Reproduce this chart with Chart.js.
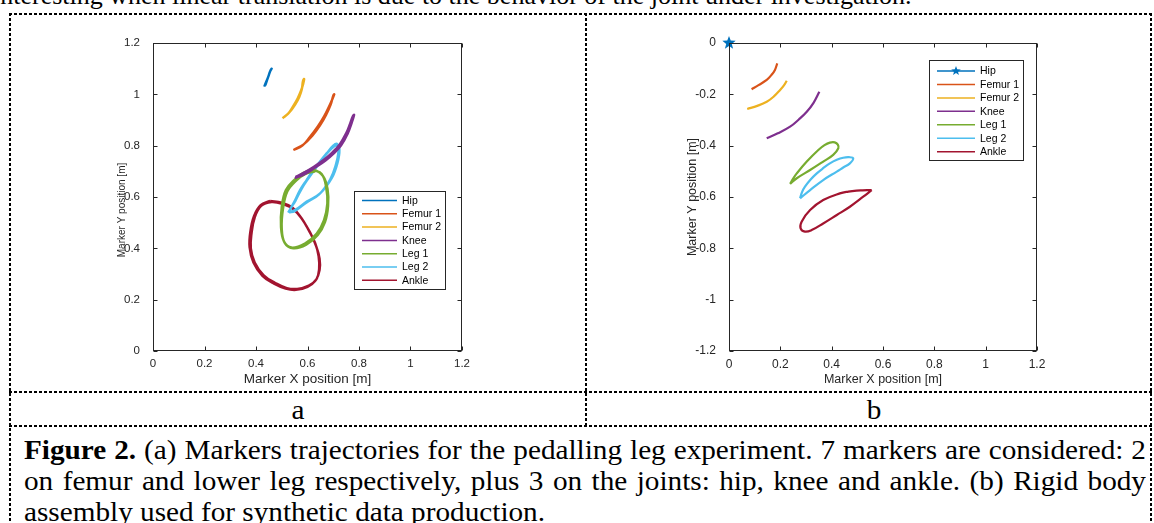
<!DOCTYPE html>
<html>
<head>
<meta charset="utf-8">
<script src="https://cdn.jsdelivr.net/npm/chart.js@4.4.0/dist/chart.umd.min.js"></script>
<style>
html, body { margin: 0; padding: 0; background: #fff; }
body { width: 1154px; height: 523px; position: relative; overflow: hidden; font-family: "Liberation Serif", "Times New Roman", serif; color: #000; }
.hl { position: absolute; height: 2px; background: repeating-linear-gradient(to right, #000 0 3px, transparent 3px 5px); }
.vl { position: absolute; width: 2px; background: repeating-linear-gradient(to bottom, #000 0 3px, transparent 3px 5px); }
.serif { position: absolute; font-size: 28px; line-height: 28px; transform-origin: 0 0; }
.capline { left: 24px; width: 1075px; transform: scaleX(1.0437); text-align: justify; text-align-last: justify; }
.cell { top: 396px; width: 576px; text-align: center; transform-origin: 50% 0; transform: scaleX(1.0437); }
canvas { position: absolute; }
</style>
</head>
<body>

<div class="serif" style="left:-7px; top:-17px; font-size:26px; line-height:26px; white-space:nowrap">interesting when linear translation is due to the behavior of the joint under investigation.</div>

<!-- dashed table frame -->
<div class="hl" style="left:9px; top:13px; width:1145px"></div>
<div class="hl" style="left:9px; top:391px; width:1145px"></div>
<div class="hl" style="left:9px; top:425px; width:1145px"></div>
<div class="vl" style="left:9px; top:13px; height:510px"></div>
<div class="vl" style="left:585px; top:13px; height:414px"></div>
<div class="vl" style="left:1150px; top:13px; height:510px"></div>

<canvas id="leftChart" width="380" height="360" style="left:100px; top:30px"></canvas>
<canvas id="rightChart" width="380" height="360" style="left:680px; top:30px"></canvas>

<div class="serif cell" style="left:10px">a</div>
<div class="serif cell" style="left:586px">b</div>

<div class="serif capline" style="top:436px"><b>Figure 2.</b> (a) Markers trajectories for the pedalling leg experiment. 7 markers are considered: 2</div>
<div class="serif capline" style="top:467px">on femur and lower leg respectively, plus 3 on the joints: hip, knee and ankle. (b) Rigid body</div>
<div class="serif capline" style="top:498px; text-align-last:left">assembly used for synthetic data production.</div>

<script>
// series names / colours (MATLAB default order)
const seriesNames = ['Hip', 'Femur 1', 'Femur 2', 'Knee', 'Leg 1', 'Leg 2', 'Ankle'];
const seriesColors = ['#0072BD', '#D95319', '#EDB120', '#7E2F8E', '#77AC30', '#4DBEEE', '#A2142F'];

// tick values and labels
const xTickValues = [0, 0.2, 0.4, 0.6, 0.8, 1, 1.2];
const xTickLabels = ['0', '0.2', '0.4', '0.6', '0.8', '1', '1.2'];
const leftYTickValues = [0, 0.2, 0.4, 0.6, 0.8, 1, 1.2];
const leftYTickLabels = ['0', '0.2', '0.4', '0.6', '0.8', '1', '1.2'];
const rightYTickValues = [-1.2, -1, -0.8, -0.6, -0.4, -0.2, 0];
const rightYTickLabels = ['-1.2', '-1', '-0.8', '-0.6', '-0.4', '-0.2', '0'];

// (a) measured trajectories, [x, y] in metres (several cycles overlap)
const aHip = [[0.432, 1.03], [0.44, 1.05], [0.448, 1.07], [0.455, 1.09], [0.461, 1.10],
  [0.457, 1.095], [0.45, 1.075], [0.443, 1.055], [0.436, 1.035]];
const aFemur1 = [[0.545, 0.783], [0.58, 0.80], [0.61, 0.835], [0.64, 0.875], [0.665, 0.915], [0.685, 0.955], [0.698, 0.985], [0.704, 1.0],
  [0.70, 0.995], [0.69, 0.96], [0.672, 0.92], [0.648, 0.878], [0.618, 0.838], [0.585, 0.805], [0.55, 0.786]];
const aFemur2 = [[0.503, 0.907], [0.525, 0.925], [0.545, 0.955], [0.562, 0.985], [0.575, 1.015], [0.583, 1.04], [0.587, 1.06],
  [0.582, 1.05], [0.578, 1.02], [0.568, 0.99], [0.552, 0.96], [0.53, 0.93], [0.508, 0.91]];
const aKnee = [[0.551, 0.673], [0.59, 0.69], [0.63, 0.715], [0.67, 0.742], [0.70, 0.768], [0.73, 0.80], [0.755, 0.845], [0.772, 0.89], [0.781, 0.92],
  [0.776, 0.915], [0.765, 0.885], [0.75, 0.848], [0.725, 0.805], [0.695, 0.772], [0.665, 0.746], [0.625, 0.718], [0.585, 0.694], [0.553, 0.678]];
const aLeg1 = [[0.623, 0.705], [0.655, 0.69], [0.672, 0.64], [0.677, 0.575], [0.664, 0.51], [0.636, 0.458], [0.59, 0.419], [0.538, 0.403],
  [0.509, 0.426], [0.497, 0.484], [0.50, 0.562], [0.516, 0.627], [0.551, 0.669], [0.586, 0.695], [0.623, 0.705],
  [0.66, 0.682], [0.678, 0.63], [0.68, 0.565], [0.668, 0.502], [0.64, 0.452], [0.595, 0.414], [0.545, 0.40],
  [0.512, 0.42], [0.50, 0.478], [0.505, 0.555], [0.522, 0.622], [0.556, 0.664], [0.592, 0.69], [0.63, 0.70]];
const aLeg2 = [[0.525, 0.539], [0.548, 0.58], [0.571, 0.627], [0.597, 0.667], [0.623, 0.705], [0.65, 0.74], [0.675, 0.771], [0.70, 0.80],
  [0.714, 0.807], [0.724, 0.784], [0.716, 0.731], [0.694, 0.673], [0.649, 0.614], [0.597, 0.582], [0.551, 0.549], [0.53, 0.545],
  [0.553, 0.585], [0.576, 0.63], [0.603, 0.672], [0.63, 0.71], [0.655, 0.745], [0.68, 0.775], [0.703, 0.797], [0.716, 0.80],
  [0.72, 0.775], [0.71, 0.725], [0.688, 0.668], [0.645, 0.61], [0.595, 0.578], [0.55, 0.545], [0.528, 0.54]];
const aAnkle = [[0.455, 0.585], [0.50, 0.578], [0.54, 0.56], [0.575, 0.52], [0.605, 0.47], [0.63, 0.42], [0.643, 0.37], [0.645, 0.32],
  [0.635, 0.28], [0.605, 0.255], [0.56, 0.242], [0.52, 0.245], [0.475, 0.265], [0.43, 0.295], [0.395, 0.345], [0.38, 0.40],
  [0.383, 0.46], [0.395, 0.52], [0.42, 0.565], [0.46, 0.58], [0.505, 0.572], [0.545, 0.552], [0.58, 0.512], [0.61, 0.462],
  [0.633, 0.41], [0.647, 0.36], [0.647, 0.315], [0.632, 0.275], [0.60, 0.25], [0.555, 0.238], [0.515, 0.243], [0.47, 0.262],
  [0.425, 0.293], [0.39, 0.345], [0.375, 0.405], [0.378, 0.465], [0.392, 0.525], [0.418, 0.568], [0.455, 0.585]];

// (b) rigid body assembly, synthetic data
const bHip = [[0, 0]];
const bFemur1 = [[0.088, -0.18], [0.115, -0.164], [0.147, -0.144], [0.165, -0.125], [0.179, -0.105], [0.188, -0.079]];
const bFemur2 = [[0.071, -0.257], [0.11, -0.245], [0.147, -0.229], [0.175, -0.208], [0.199, -0.183], [0.214, -0.165], [0.225, -0.147]];
const bKnee = [[0.147, -0.371], [0.19, -0.352], [0.238, -0.326], [0.272, -0.298], [0.303, -0.268], [0.33, -0.232], [0.352, -0.19]];
const bLeg1 = [[0.238, -0.549], [0.25, -0.528], [0.264, -0.508], [0.303, -0.462], [0.348, -0.417], [0.372, -0.398], [0.393, -0.388],
  [0.412, -0.387], [0.424, -0.396], [0.426, -0.41], [0.406, -0.436], [0.367, -0.462], [0.316, -0.495], [0.264, -0.527], [0.238, -0.549]];
const bLeg2 = [[0.277, -0.605], [0.285, -0.58], [0.296, -0.56], [0.318, -0.532], [0.342, -0.508], [0.368, -0.487], [0.393, -0.469],
  [0.42, -0.455], [0.445, -0.447], [0.468, -0.445], [0.484, -0.449], [0.471, -0.469], [0.445, -0.485], [0.42, -0.501],
  [0.367, -0.534], [0.316, -0.573], [0.277, -0.605]];
const bAnkle = [[0.556, -0.573], [0.52, -0.574], [0.497, -0.575], [0.465, -0.579], [0.432, -0.586], [0.367, -0.612], [0.316, -0.651],
  [0.283, -0.696], [0.279, -0.722], [0.296, -0.735], [0.322, -0.729], [0.367, -0.703], [0.42, -0.67], [0.471, -0.638],
  [0.523, -0.599], [0.556, -0.573]];

const sans = '"Liberation Sans", Arial, Helvetica, sans-serif';
const axisColor = '#262626';

// filled pentagram like MATLAB's 'p' marker
function starMarker(r, color) {
    const c = document.createElement('canvas');
    c.width = c.height = 2 * r + 2;
    const g = c.getContext('2d');
    g.beginPath();
    for (let i = 0; i < 10; i++) {
        const a = -Math.PI / 2 + i * Math.PI / 5;
        const rr = i % 2 ? r * 0.42 : r;
        g.lineTo(r + 1 + rr * Math.cos(a), r + 1 + rr * Math.sin(a));
    }
    g.closePath();
    g.fillStyle = color;
    g.fill();
    return c;
}
const hipStar = starMarker(7, seriesColors[0]);
const hipStarSmall = starMarker(5, seriesColors[0]);

function toXY(arr) {
    return arr.map(p => ({ x: p[0], y: p[1] }));
}

function makeDatasets(list, width) {
    return list.map((arr, i) => ({
        label: seriesNames[i],
        data: toXY(arr),
        borderColor: seriesColors[i],
        backgroundColor: seriesColors[i],
        borderWidth: width,
        showLine: true,
        pointRadius: 0,
        tension: 0.4
    }));
}

// label lookup by tick value (avoids float noise in generated ticks)
function labelFor(values, labels) {
    return v => {
        let best = 0;
        values.forEach((t, i) => { if (Math.abs(t - v) < Math.abs(values[best] - v)) best = i; });
        return labels[best];
    };
}

// box, inward ticks on all four sides, y label and boxed legend, MATLAB style
const matlabAxes = {
    id: 'matlabAxes',
    afterDraw(chart, args, o) {
        const { ctx, chartArea: a, scales: { x, y } } = chart;
        ctx.save();
        ctx.strokeStyle = axisColor;
        ctx.lineWidth = 1;
        const L = Math.round(a.left) + 0.5, R = Math.round(a.right) - 0.5;
        const T = Math.round(a.top) + 0.5, B = Math.round(a.bottom) - 0.5;
        ctx.strokeRect(L, T, R - L, B - T);
        ctx.beginPath();
        x.ticks.forEach(t => {
            const px = Math.round(x.getPixelForValue(t.value)) + 0.5;
            ctx.moveTo(px, B); ctx.lineTo(px, B - 4);
            ctx.moveTo(px, T); ctx.lineTo(px, T + 4);
        });
        y.ticks.forEach(t => {
            const py = Math.round(y.getPixelForValue(t.value)) + 0.5;
            ctx.moveTo(L, py); ctx.lineTo(L + 4, py);
            ctx.moveTo(R, py); ctx.lineTo(R - 4, py);
        });
        ctx.stroke();

        // rotated y-axis label
        const yt = o.yTitle;
        ctx.save();
        ctx.translate(yt.x, yt.y);
        ctx.rotate(-Math.PI / 2);
        ctx.fillStyle = axisColor;
        ctx.font = yt.size + 'px ' + sans;
        ctx.textAlign = 'center';
        ctx.textBaseline = 'middle';
        ctx.fillText(yt.text, 0, 0);
        ctx.restore();

        // legend
        const b = o.box;
        ctx.fillStyle = '#fff';
        ctx.fillRect(b.x, b.y, b.w, b.h);
        ctx.strokeStyle = axisColor;
        ctx.strokeRect(b.x + 0.5, b.y + 0.5, b.w - 1, b.h - 1);
        ctx.font = '10.5px ' + sans;
        ctx.textBaseline = 'middle';
        ctx.textAlign = 'left';
        chart.data.datasets.forEach((ds, i) => {
            const cy = b.rowY + i * b.rowStep;
            ctx.strokeStyle = ds.borderColor;
            ctx.lineWidth = 1.5;
            ctx.beginPath();
            ctx.moveTo(b.lineX0, cy);
            ctx.lineTo(b.lineX1, cy);
            ctx.stroke();
            if (ds.legendMarker) {
                const m = ds.legendMarker;
                ctx.drawImage(m, (b.lineX0 + b.lineX1) / 2 - m.width / 2, cy - m.height / 2);
            }
            ctx.fillStyle = '#000';
            ctx.fillText(ds.label, b.textX, cy + 0.5);
        });
        ctx.restore();
    }
};

function axisFont(size) {
    return { family: sans, size: size };
}

function plotOptions(cfg) {
    return {
        responsive: false,
        animation: false,
        devicePixelRatio: 1,
        layout: { padding: cfg.padding, autoPadding: false },
        plugins: {
            legend: { display: false },
            tooltip: { enabled: false },
            matlabAxes: { box: cfg.legend, yTitle: cfg.yTitle }
        },
        scales: {
            x: {
                type: 'linear', min: 0, max: 1.2,
                grid: { display: false }, border: { display: false },
                ticks: {
                    stepSize: 0.2, padding: cfg.xTickPad, color: axisColor, font: axisFont(cfg.tickSize),
                    maxRotation: 0, autoSkip: false,
                    callback: labelFor(xTickValues, xTickLabels)
                },
                title: {
                    display: true, text: 'Marker X position [m]', color: axisColor,
                    font: axisFont(cfg.xTitleSize), padding: { top: 0, bottom: cfg.xTitlePad }
                },
                afterFit: s => { s.height = cfg.xHeight; }
            },
            y: {
                type: 'linear', min: cfg.yMin, max: cfg.yMax,
                grid: { display: false }, border: { display: false },
                ticks: {
                    stepSize: 0.2, padding: 5, color: axisColor, font: axisFont(cfg.tickSize),
                    autoSkip: false,
                    callback: labelFor(cfg.yValues, cfg.yLabels)
                },
                afterFit: s => { s.width = cfg.yWidth; }
            }
        }
    };
}

document.addEventListener('DOMContentLoaded', function() {
    // (a) experiment
    new Chart(document.getElementById('leftChart'), {
        type: 'scatter',
        data: { datasets: makeDatasets([aHip, aFemur1, aFemur2, aKnee, aLeg1, aLeg2, aAnkle], 2.4) },
        options: plotOptions({
            padding: { left: 0, top: 13, right: 18, bottom: 0 },
            yMin: 0, yMax: 1.2, yValues: leftYTickValues, yLabels: leftYTickLabels,
            yWidth: 53, xHeight: 39,
            tickSize: 11.5, xTickPad: -2,
            xTitleSize: 13.5, xTitlePad: 3,
            yTitle: { text: 'Marker Y position [m]', size: 10, x: 22, y: 180 },
            legend: { x: 254, y: 161, w: 92, h: 99, rowY: 170.5, rowStep: 13.3, lineX0: 262, lineX1: 297, textX: 302 }
        }),
        plugins: [matlabAxes]
    });

    // (b) rigid body assembly
    const right = makeDatasets([bHip, bFemur1, bFemur2, bKnee, bLeg1, bLeg2, bAnkle], 2.2);
    right[0].showLine = false;
    right[0].pointRadius = 7;
    right[0].pointStyle = hipStar;
    right[0].clip = false;
    right[0].legendMarker = hipStarSmall;

    new Chart(document.getElementById('rightChart'), {
        type: 'scatter',
        data: { datasets: right },
        options: plotOptions({
            padding: { left: 0, top: 13, right: 23, bottom: 0 },
            yMin: -1.2, yMax: 0, yValues: rightYTickValues, yLabels: rightYTickLabels,
            yWidth: 49, xHeight: 39,
            tickSize: 12, xTickPad: -2,
            xTitleSize: 12.5, xTitlePad: 3,
            yTitle: { text: 'Marker Y position [m]', size: 12.5, x: 12.5, y: 167 },
            legend: { x: 249, y: 30, w: 95, h: 101, rowY: 41, rowStep: 13.45, lineX0: 257, lineX1: 295, textX: 300 }
        }),
        plugins: [matlabAxes]
    });
});
</script>
</body>
</html>
